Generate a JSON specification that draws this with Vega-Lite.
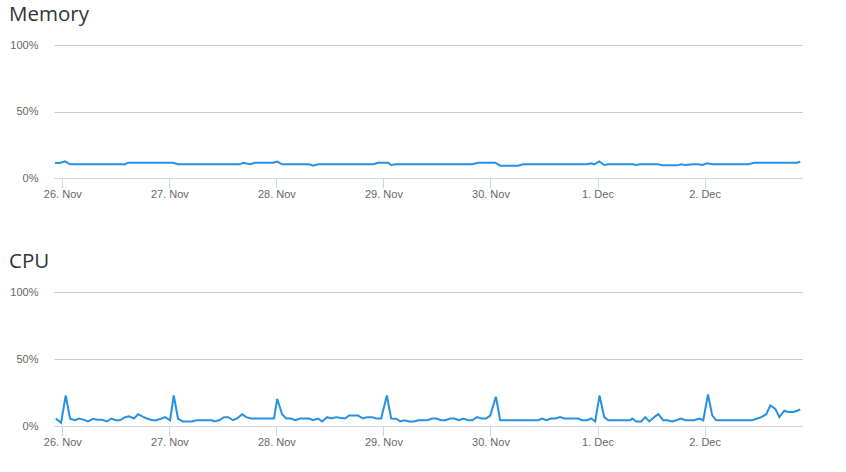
{
  "$schema": "https://vega.github.io/schema/vega-lite/v6.json",
  "padding": {"left": 0, "top": 4, "right": 0, "bottom": 0},
  "config": {
    "view": {"stroke": null},
    "concat": {"spacing": 52},
    "axis": {"labelFont": "Liberation Sans", "labelFontSize": 11, "labelColor": "#666666", "title": null}
  },
  "datasets": {
    "memory": [
      {"t": "2023-11-25T22:22", "v": 11.3},
      {"t": "2023-11-25T23:29", "v": 11.3},
      {"t": "2023-11-26T00:36", "v": 12.5},
      {"t": "2023-11-26T01:44", "v": 10.3},
      {"t": "2023-11-26T14:04", "v": 10.3},
      {"t": "2023-11-26T14:44", "v": 11.5},
      {"t": "2023-11-27T00:50", "v": 11.5},
      {"t": "2023-11-27T01:57", "v": 10.3},
      {"t": "2023-11-27T15:51", "v": 10.3},
      {"t": "2023-11-27T16:32", "v": 11.5},
      {"t": "2023-11-27T18:06", "v": 10.3},
      {"t": "2023-11-27T19:13", "v": 11.5},
      {"t": "2023-11-27T23:16", "v": 11.5},
      {"t": "2023-11-28T00:10", "v": 12.3},
      {"t": "2023-11-28T01:17", "v": 10.3},
      {"t": "2023-11-28T07:20", "v": 10.3},
      {"t": "2023-11-28T08:14", "v": 9.3},
      {"t": "2023-11-28T09:21", "v": 10.3},
      {"t": "2023-11-28T21:41", "v": 10.3},
      {"t": "2023-11-28T22:49", "v": 11.5},
      {"t": "2023-11-29T01:03", "v": 11.5},
      {"t": "2023-11-29T01:44", "v": 9.8},
      {"t": "2023-11-29T02:51", "v": 10.3},
      {"t": "2023-11-29T19:54", "v": 10.3},
      {"t": "2023-11-29T21:14", "v": 11.5},
      {"t": "2023-11-30T01:04", "v": 11.5},
      {"t": "2023-11-30T02:11", "v": 9.3},
      {"t": "2023-11-30T06:13", "v": 9.3},
      {"t": "2023-11-30T07:20", "v": 10.3},
      {"t": "2023-11-30T21:41", "v": 10.3},
      {"t": "2023-11-30T22:35", "v": 11.0},
      {"t": "2023-11-30T23:16", "v": 10.3},
      {"t": "2023-12-01T00:23", "v": 12.5},
      {"t": "2023-12-01T01:30", "v": 9.8},
      {"t": "2023-12-01T02:24", "v": 10.3},
      {"t": "2023-12-01T08:00", "v": 10.3},
      {"t": "2023-12-01T08:41", "v": 9.8},
      {"t": "2023-12-01T09:34", "v": 10.3},
      {"t": "2023-12-01T13:37", "v": 10.3},
      {"t": "2023-12-01T14:31", "v": 9.5},
      {"t": "2023-12-01T17:53", "v": 9.5},
      {"t": "2023-12-01T18:46", "v": 10.3},
      {"t": "2023-12-01T19:40", "v": 9.8},
      {"t": "2023-12-01T21:28", "v": 10.3},
      {"t": "2023-12-01T22:35", "v": 10.3},
      {"t": "2023-12-01T23:29", "v": 9.8},
      {"t": "2023-12-02T00:37", "v": 11.0},
      {"t": "2023-12-02T01:44", "v": 10.3},
      {"t": "2023-12-02T09:48", "v": 10.3},
      {"t": "2023-12-02T11:09", "v": 11.5},
      {"t": "2023-12-02T20:47", "v": 11.5},
      {"t": "2023-12-02T21:28", "v": 12.3}
    ],
    "cpu": [
      {"t": "2023-11-25T22:31", "v": 5.6},
      {"t": "2023-11-25T23:43", "v": 2.4},
      {"t": "2023-11-26T00:46", "v": 22.8},
      {"t": "2023-11-26T01:44", "v": 5.4},
      {"t": "2023-11-26T02:51", "v": 4.3},
      {"t": "2023-11-26T03:45", "v": 5.6},
      {"t": "2023-11-26T04:52", "v": 4.6},
      {"t": "2023-11-26T05:46", "v": 3.4},
      {"t": "2023-11-26T06:53", "v": 5.4},
      {"t": "2023-11-26T07:47", "v": 4.6},
      {"t": "2023-11-26T08:54", "v": 4.6},
      {"t": "2023-11-26T10:02", "v": 3.4},
      {"t": "2023-11-26T10:55", "v": 5.6},
      {"t": "2023-11-26T12:03", "v": 4.3},
      {"t": "2023-11-26T12:56", "v": 4.3},
      {"t": "2023-11-26T14:04", "v": 6.6},
      {"t": "2023-11-26T14:58", "v": 7.3},
      {"t": "2023-11-26T16:05", "v": 5.6},
      {"t": "2023-11-26T16:59", "v": 8.8},
      {"t": "2023-11-26T18:06", "v": 6.8},
      {"t": "2023-11-26T19:00", "v": 5.6},
      {"t": "2023-11-26T20:07", "v": 4.3},
      {"t": "2023-11-26T21:01", "v": 4.3},
      {"t": "2023-11-26T22:08", "v": 5.4},
      {"t": "2023-11-26T23:02", "v": 6.6},
      {"t": "2023-11-27T00:10", "v": 4.3},
      {"t": "2023-11-27T00:59", "v": 22.8},
      {"t": "2023-11-27T01:57", "v": 5.4},
      {"t": "2023-11-27T03:04", "v": 3.4},
      {"t": "2023-11-27T05:05", "v": 3.4},
      {"t": "2023-11-27T06:00", "v": 4.3},
      {"t": "2023-11-27T09:35", "v": 4.3},
      {"t": "2023-11-27T10:02", "v": 3.4},
      {"t": "2023-11-27T11:09", "v": 4.3},
      {"t": "2023-11-27T12:17", "v": 6.6},
      {"t": "2023-11-27T13:10", "v": 6.6},
      {"t": "2023-11-27T14:17", "v": 4.3},
      {"t": "2023-11-27T15:11", "v": 5.6},
      {"t": "2023-11-27T16:19", "v": 8.8},
      {"t": "2023-11-27T17:13", "v": 6.6},
      {"t": "2023-11-27T18:20", "v": 5.6},
      {"t": "2023-11-27T23:29", "v": 5.6},
      {"t": "2023-11-28T00:10", "v": 20.3},
      {"t": "2023-11-28T01:17", "v": 8.8},
      {"t": "2023-11-28T02:11", "v": 5.6},
      {"t": "2023-11-28T03:18", "v": 5.6},
      {"t": "2023-11-28T04:12", "v": 4.3},
      {"t": "2023-11-28T05:19", "v": 5.6},
      {"t": "2023-11-28T07:20", "v": 5.6},
      {"t": "2023-11-28T08:14", "v": 4.3},
      {"t": "2023-11-28T09:21", "v": 5.6},
      {"t": "2023-11-28T10:15", "v": 3.4},
      {"t": "2023-11-28T11:22", "v": 6.6},
      {"t": "2023-11-28T12:16", "v": 5.6},
      {"t": "2023-11-28T13:23", "v": 6.6},
      {"t": "2023-11-28T15:25", "v": 5.6},
      {"t": "2023-11-28T16:18", "v": 7.8},
      {"t": "2023-11-28T18:19", "v": 7.8},
      {"t": "2023-11-28T19:26", "v": 5.6},
      {"t": "2023-11-28T20:20", "v": 6.6},
      {"t": "2023-11-28T21:28", "v": 6.6},
      {"t": "2023-11-28T22:22", "v": 5.6},
      {"t": "2023-11-28T23:29", "v": 5.6},
      {"t": "2023-11-29T00:46", "v": 22.8},
      {"t": "2023-11-29T01:44", "v": 5.6},
      {"t": "2023-11-29T02:51", "v": 5.4},
      {"t": "2023-11-29T03:45", "v": 3.4},
      {"t": "2023-11-29T04:38", "v": 4.3},
      {"t": "2023-11-29T05:46", "v": 3.4},
      {"t": "2023-11-29T06:53", "v": 3.4},
      {"t": "2023-11-29T07:47", "v": 4.3},
      {"t": "2023-11-29T09:48", "v": 4.3},
      {"t": "2023-11-29T10:55", "v": 5.6},
      {"t": "2023-11-29T11:49", "v": 5.6},
      {"t": "2023-11-29T12:56", "v": 4.3},
      {"t": "2023-11-29T13:50", "v": 4.3},
      {"t": "2023-11-29T14:58", "v": 5.6},
      {"t": "2023-11-29T15:52", "v": 5.6},
      {"t": "2023-11-29T16:59", "v": 4.3},
      {"t": "2023-11-29T17:53", "v": 5.6},
      {"t": "2023-11-29T19:00", "v": 4.3},
      {"t": "2023-11-29T19:54", "v": 4.3},
      {"t": "2023-11-29T21:01", "v": 6.6},
      {"t": "2023-11-29T21:55", "v": 5.6},
      {"t": "2023-11-29T23:02", "v": 5.6},
      {"t": "2023-11-29T23:56", "v": 7.8},
      {"t": "2023-11-30T01:13", "v": 21.8},
      {"t": "2023-11-30T02:11", "v": 4.3},
      {"t": "2023-11-30T10:42", "v": 4.3},
      {"t": "2023-11-30T11:36", "v": 5.6},
      {"t": "2023-11-30T12:30", "v": 4.3},
      {"t": "2023-11-30T13:37", "v": 5.6},
      {"t": "2023-11-30T14:31", "v": 5.6},
      {"t": "2023-11-30T15:38", "v": 6.6},
      {"t": "2023-11-30T16:32", "v": 5.6},
      {"t": "2023-11-30T19:40", "v": 5.6},
      {"t": "2023-11-30T20:34", "v": 4.3},
      {"t": "2023-11-30T21:41", "v": 4.3},
      {"t": "2023-11-30T22:35", "v": 5.6},
      {"t": "2023-11-30T23:29", "v": 3.4},
      {"t": "2023-12-01T00:27", "v": 22.8},
      {"t": "2023-12-01T01:30", "v": 6.6},
      {"t": "2023-12-01T02:24", "v": 4.3},
      {"t": "2023-12-01T07:20", "v": 4.3},
      {"t": "2023-12-01T07:47", "v": 5.6},
      {"t": "2023-12-01T08:41", "v": 3.4},
      {"t": "2023-12-01T09:48", "v": 3.4},
      {"t": "2023-12-01T10:42", "v": 6.6},
      {"t": "2023-12-01T11:36", "v": 3.4},
      {"t": "2023-12-01T12:43", "v": 6.6},
      {"t": "2023-12-01T13:37", "v": 8.8},
      {"t": "2023-12-01T14:44", "v": 4.3},
      {"t": "2023-12-01T15:38", "v": 4.3},
      {"t": "2023-12-01T16:45", "v": 3.4},
      {"t": "2023-12-01T17:39", "v": 4.3},
      {"t": "2023-12-01T18:46", "v": 5.6},
      {"t": "2023-12-01T19:40", "v": 4.3},
      {"t": "2023-12-01T21:41", "v": 4.3},
      {"t": "2023-12-01T22:49", "v": 5.6},
      {"t": "2023-12-01T23:43", "v": 4.3},
      {"t": "2023-12-02T00:46", "v": 23.5},
      {"t": "2023-12-02T01:44", "v": 7.8},
      {"t": "2023-12-02T02:37", "v": 4.3},
      {"t": "2023-12-02T10:42", "v": 4.3},
      {"t": "2023-12-02T11:49", "v": 5.6},
      {"t": "2023-12-02T12:43", "v": 6.6},
      {"t": "2023-12-02T13:50", "v": 8.8},
      {"t": "2023-12-02T14:44", "v": 15.3},
      {"t": "2023-12-02T15:52", "v": 12.8},
      {"t": "2023-12-02T16:46", "v": 6.6},
      {"t": "2023-12-02T17:53", "v": 11.4},
      {"t": "2023-12-02T18:46", "v": 10.4},
      {"t": "2023-12-02T19:54", "v": 10.4},
      {"t": "2023-12-02T20:47", "v": 11.4},
      {"t": "2023-12-02T21:28", "v": 12.4}
    ]
  },
  "vconcat": [
    {
      "title": {"text": "Memory", "anchor": "start", "frame": "group", "dx": -45, "font": "Open Sans", "fontSize": 20.5, "fontWeight": "normal", "color": "#333333", "offset": 14},
      "data": {"name": "memory"},
      "width": 748,
      "height": 133,
      "mark": {"type": "line", "color": "#2790e0", "strokeWidth": 2},
      "encoding": {
        "x": {"field": "t", "type": "temporal",
          "scale": {"domain": [{"year": 2023, "month": 11, "date": 25, "hours": 22, "minutes": 8}, {"year": 2023, "month": 12, "date": 2, "hours": 21, "minutes": 51}]},
          "axis": {"format": "%-d. %b", "tickCount": {"interval": "day", "step": 1}, "grid": false, "domainColor": "#ccd6eb", "tickColor": "#ccd6eb", "tickSize": 10, "labelPadding": 0, "labelFlush": false, "labelOverlap": false, "zindex": 1}},
        "y": {"field": "v", "type": "quantitative",
          "scale": {"domain": [0, 100]},
          "axis": {"values": [0, 50, 100], "labelExpr": "datum.value + '%'", "domain": false, "ticks": false, "gridColor": "#c8c8c8", "labelPadding": 16, "minExtent": 54, "maxExtent": 54}}
      }
    },
    {
      "title": {"text": "CPU", "anchor": "start", "frame": "group", "dx": -45, "font": "Open Sans", "fontSize": 20.5, "fontWeight": "normal", "color": "#333333", "offset": 14},
      "data": {"name": "cpu"},
      "width": 748,
      "height": 134,
      "mark": {"type": "line", "color": "#2790e0", "strokeWidth": 2},
      "encoding": {
        "x": {"field": "t", "type": "temporal",
          "scale": {"domain": [{"year": 2023, "month": 11, "date": 25, "hours": 22, "minutes": 8}, {"year": 2023, "month": 12, "date": 2, "hours": 21, "minutes": 51}]},
          "axis": {"format": "%-d. %b", "tickCount": {"interval": "day", "step": 1}, "grid": false, "domainColor": "#ccd6eb", "tickColor": "#ccd6eb", "tickSize": 10, "labelPadding": 0, "labelFlush": false, "labelOverlap": false, "zindex": 1}},
        "y": {"field": "v", "type": "quantitative",
          "scale": {"domain": [0, 100]},
          "axis": {"values": [0, 50, 100], "labelExpr": "datum.value + '%'", "domain": false, "ticks": false, "gridColor": "#c8c8c8", "labelPadding": 16, "minExtent": 54, "maxExtent": 54}}
      }
    }
  ]
}
